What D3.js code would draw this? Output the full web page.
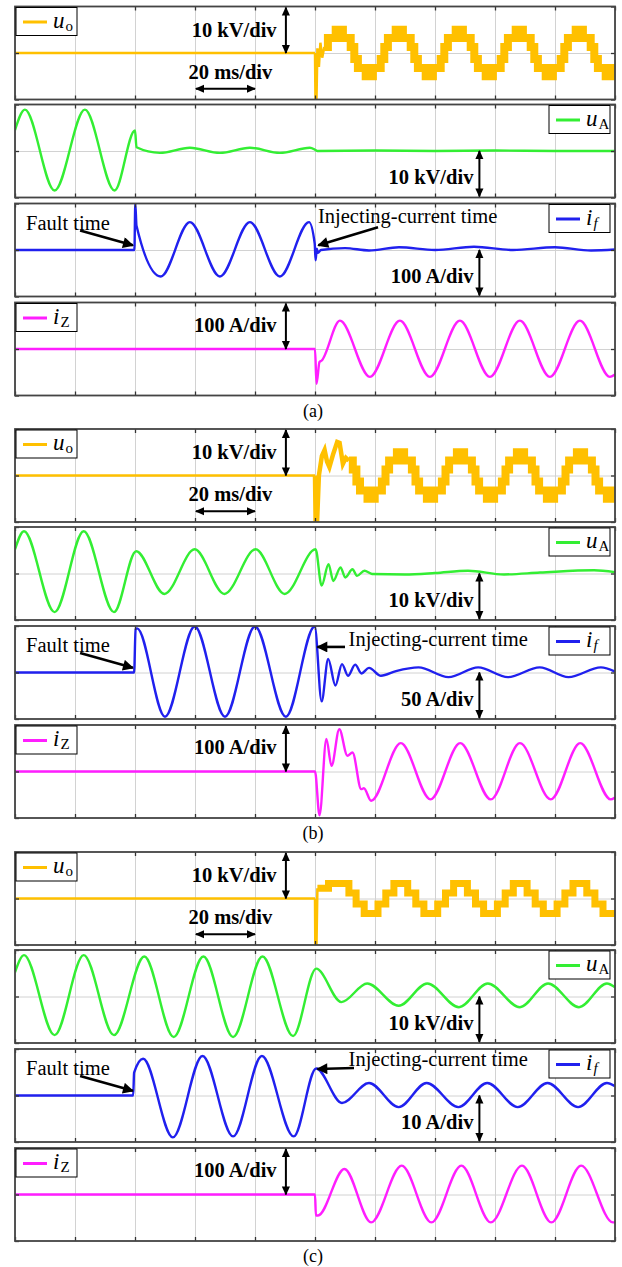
<!DOCTYPE html>
<html>
<head>
<meta charset="utf-8">
<script src="https://cdn.jsdelivr.net/npm/d3@7"></script>
<style>
body { margin: 0; background: #fff; }
</style>
</head>
<body>
<div class="visContainer"></div>
<script>
const w = 622;
const h = 1267;

// time axis (ms) and vertical divisions
const timeTicks = [0, 20, 40, 60, 80, 100, 120, 140, 160, 180, 200];
const divTicks = [-1, 0, 1];

const captions = ['(a)', '(b)', '(c)'];
const legendMain = ['u', 'u', 'i', 'i'];
const legendSub = ['o', 'A', 'f', 'Z'];
const scaleLabels = [
	['10 kV/div', '10 kV/div', '100 A/div', '100 A/div'],
	['10 kV/div', '10 kV/div', '50 A/div', '100 A/div'],
	['10 kV/div', '10 kV/div', '10 A/div', '100 A/div']
];
const timeLabel = '20 ms/div';
const faultLabel = 'Fault time';
const injectLabel = 'Injecting-current time';

// u_o before the injection is flat in all three cases
const uoPre = [[0, 0], [100, 0]];

// ---- (a) ----
const uoA_edge = [[100, 0], [100.15, -0.98], [100.5, -0.98], [100.8, 0.1], [101.3, -0.3], [101.8, 0.22], [102.4, -0.1], [103.1, 0.13]];
const uoA_step = [
	[103.1, 0.13], [104.3, 0.32], [106.9, 0.5], [109.3, 0.32], [111.9, 0.13], [113.1, -0.13], [114.3, -0.32], [116.9, -0.5], [119.3, -0.32], [121.9, -0.13],
	[123.1, 0.13], [124.3, 0.32], [126.9, 0.5], [129.3, 0.32], [131.9, 0.13], [133.1, -0.13], [134.3, -0.32], [136.9, -0.5], [139.3, -0.32], [141.9, -0.13],
	[143.1, 0.13], [144.3, 0.32], [146.9, 0.5], [149.3, 0.32], [151.9, 0.13], [153.1, -0.13], [154.3, -0.32], [156.9, -0.5], [159.3, -0.32], [161.9, -0.13],
	[163.1, 0.13], [164.3, 0.32], [166.9, 0.5], [169.3, 0.32], [171.9, 0.13], [173.1, -0.13], [174.3, -0.32], [176.9, -0.5], [179.3, -0.32], [181.9, -0.13],
	[183.1, 0.13], [184.3, 0.32], [186.9, 0.5], [189.3, 0.32], [191.9, 0.13], [193.1, -0.13], [194.3, -0.32], [196.9, -0.5], [199.3, -0.32], [200, -0.32]
];
const uA_a = [[0, 0.45], [3.3, 0.89], [13.2, -0.85], [23.3, 0.89], [33.2, -0.85], [40, 0.44], [40.5, 0.08], [48.3, -0.04], [58.3, 0.07], [68.3, -0.04], [78.3, 0.07], [88.3, -0.04], [98.3, 0.07], [100.2, 0.02], [100.8, 0], [120, 0.01], [140, 0], [160, 0.01], [180, 0], [200, 0]];
const if_a = [[0, 0], [39.8, 0], [40.1, 1.0], [40.5, 0.52], [48.6, -0.57], [58.3, 0.6], [68.3, -0.57], [78.3, 0.6], [88.3, -0.57], [98, 0.6], [99.9, 0.14], [100.2, -0.22], [100.6, 0.03], [101, -0.06], [102, 0], [110, 0.04], [118, -0.01], [128, 0.06], [140, 0], [153, 0.07], [166, 0], [180, 0.06], [192, -0.01], [200, 0.01]];
const iZ_a = [[0, 0], [100, 0], [100.5, -0.75], [101.5, -0.28], [102.2, -0.25], [108.3, 0.61], [118.3, -0.6], [128.3, 0.61], [138.3, -0.6], [148.3, 0.61], [158.3, -0.6], [168.3, 0.61], [178.3, -0.6], [188.3, 0.61], [198.3, -0.6], [200, -0.55]];

// ---- (b) ----
const uoB_edge = [[100, 0], [100.2, -0.98], [100.7, -0.98], [101.3, 0], [102.3, 0.42], [103.2, 0.55], [104, 0.3], [104.8, 0.18], [106, 0.45], [107.4, 0.72], [108.2, 0.7], [109.3, 0.25], [110.3, 0.38], [111.3, 0.32]];
const uoB_step = [
	[111.3, 0.32], [112.6, 0.13], [113.8, -0.13], [115, -0.32], [117.5, -0.5], [119.9, -0.32], [122.3, -0.13],
	[123.5, 0.13], [124.7, 0.32], [127.3, 0.5], [129.7, 0.32], [132.3, 0.13], [133.5, -0.13], [134.7, -0.32], [137.3, -0.5], [139.7, -0.32], [142.3, -0.13],
	[143.5, 0.13], [144.7, 0.32], [147.3, 0.5], [149.7, 0.32], [152.3, 0.13], [153.5, -0.13], [154.7, -0.32], [157.3, -0.5], [159.7, -0.32], [162.3, -0.13],
	[163.5, 0.13], [164.7, 0.32], [167.3, 0.5], [169.7, 0.32], [172.3, 0.13], [173.5, -0.13], [174.7, -0.32], [177.3, -0.5], [179.7, -0.32], [182.3, -0.13],
	[183.5, 0.13], [184.7, 0.32], [187.3, 0.5], [189.7, 0.32], [192.3, 0.13], [193.5, -0.13], [194.7, -0.32], [197.3, -0.5], [199.7, -0.32], [200, -0.32]
];
const uA_b = [[0, 0.52], [3, 0.91], [13.2, -0.83], [22.9, 0.91], [33, -0.83], [40.4, 0.48], [49.8, -0.44], [59.9, 0.52], [69.8, -0.44], [80.2, 0.52], [89.9, -0.44], [100.2, 0.52], [102.2, -0.26], [104.5, 0.2], [106.1, -0.16], [108.5, 0.13], [110.1, -0.085], [112.5, 0.09], [114, -0.05], [116.5, 0.06], [119, -0.01], [130, -0.02], [140, 0.01], [151, 0.06], [163, -0.02], [175, 0.02], [193, 0.07], [200, 0.03]];
const if_b = [[0, 0], [39.7, 0], [40.2, 0.93], [40.7, 0.95], [50, -0.95], [59.9, 0.99], [70, -0.95], [80, 0.99], [90.3, -0.95], [99.9, 0.99], [102.2, -0.62], [104.4, 0.29], [106.8, -0.28], [109, 0.18], [111, -0.07], [113.4, 0.17], [115.5, -0.02], [118, 0.1], [122, -0.07], [127, 0.03], [134.5, 0.11], [144.5, -0.1], [154.4, 0.11], [164.3, -0.1], [174.9, 0.11], [184.5, -0.1], [195.3, 0.11], [200, 0.02]];
const iZ_b = [[0, 0], [100, 0], [101.5, -0.94], [103.8, 0.7], [105.5, 0.12], [108.1, 0.91], [110.8, 0.34], [112.5, 0.41], [115.4, -0.38], [116.3, -0.36], [118.7, -0.63], [128.6, 0.61], [138.5, -0.6], [148.4, 0.61], [158.6, -0.6], [168.3, 0.61], [178.6, -0.6], [188.4, 0.61], [198.6, -0.6], [200, -0.56]];

// ---- (c) ----
const uoC_edge = [[100, 0], [100.1, -0.98], [100.5, -0.98], [100.8, 0.22]];
const uoC_step = [
	[100.8, 0.22], [104.5, 0.32], [111.3, 0.12], [113.7, -0.12], [116.4, -0.32], [121, -0.12],
	[123.6, 0.12], [126.3, 0.32], [130.9, 0.12], [133.6, -0.12], [136.3, -0.32], [140.9, -0.12],
	[143.5, 0.12], [146.2, 0.32], [150.8, 0.12], [153.5, -0.12], [156.2, -0.32], [160.8, -0.12],
	[163.4, 0.12], [166.1, 0.32], [170.7, 0.12], [173.4, -0.12], [176.1, -0.32], [180.7, -0.12],
	[183.3, 0.12], [186, 0.32], [190.6, 0.12], [193.3, -0.12], [196, -0.32], [200, -0.32]
];
const uA_c = [[0, 0.52], [3, 0.89], [13.2, -0.83], [22.9, 0.89], [33, -0.83], [43.1, 0.86], [52.9, -0.87], [62.8, 0.86], [72.7, -0.87], [82.5, 0.86], [92.7, -0.85], [100.4, 0.6], [108.8, -0.12], [117.4, 0.28], [127.9, -0.2], [137.4, 0.28], [148, -0.23], [157.6, 0.28], [168.3, -0.23], [177.7, 0.28], [188, -0.23], [197.3, 0.28], [200, 0.2]];
const if_c = [[0, 0], [39.4, 0], [39.7, 0.49], [42.7, 0.79], [52.6, -0.9], [62.5, 0.85], [72.7, -0.88], [82.3, 0.85], [92.9, -0.88], [100.4, 0.58], [109, -0.16], [118, 0.27], [127.9, -0.25], [137.2, 0.27], [147.8, -0.25], [157.4, 0.27], [167.6, -0.25], [177.5, 0.27], [187.7, -0.25], [197.3, 0.27], [200, 0.2]];
const iZ_c = [[0, 0], [100, 0], [100.3, -0.45], [101, -0.45], [109.8, 0.55], [118.7, -0.6], [128.9, 0.62], [138.8, -0.6], [148.8, 0.62], [158.6, -0.6], [169, 0.62], [178.8, -0.6], [188.7, 0.62], [199.3, -0.6], [200, -0.6]];

const uoEdges = [uoA_edge, uoB_edge, uoC_edge];
const uoSteps = [uoA_step, uoB_step, uoC_step];
const uAs = [uA_a, uA_b, uA_c];
const ifs = [if_a, if_b, if_c];
const iZs = [iZ_a, iZ_b, iZ_c];

// ---- layout / style ----
const colors = ['#ffc000', '#33ee33', '#2020ee', '#ff1eff'];
const groupTop = [6.5, 429, 852];
const panelOffset = [0, 98, 197, 296];
const ph = 93;
const edgeWidth = [2.5, 4.5, 2.5];
const stepWidth = [8, 8, 7];
// injecting-current annotation: text [t, div], arrow from [t, div] to [t, div]
const injectText = [[101, 0.74], [111.2, 0.72], [111.2, 0.78]];
const injectArrow = [[[121, 0.49], [101.1, 0.1]], [[110, 0.55], [100.8, 0.55]], [[113, 0.59], [100.8, 0.57]]];

const x = d3.scaleLinear().domain([0, 200]).range([15, 615]);

const svgContainer = d3
	.select('.visContainer')
	.append('svg')
	.attr('width', w)
	.attr('height', h)
	.style('font-family', '"Liberation Serif", "Times New Roman", serif');

const defs = svgContainer.append('defs');
defs.append('marker')
	.attr('id', 'head')
	.attr('viewBox', '0 0 10 10')
	.attr('refX', 9)
	.attr('refY', 5)
	.attr('markerWidth', 9)
	.attr('markerHeight', 9)
	.attr('markerUnits', 'userSpaceOnUse')
	.attr('orient', 'auto-start-reverse')
	.append('path')
	.attr('d', 'M0,0.5 L10,5 L0,9.5 z')
	.attr('fill', '#000');
defs.append('marker')
	.attr('id', 'bighead')
	.attr('viewBox', '0 0 10 10')
	.attr('refX', 9)
	.attr('refY', 5)
	.attr('markerWidth', 13)
	.attr('markerHeight', 11)
	.attr('markerUnits', 'userSpaceOnUse')
	.attr('orient', 'auto')
	.append('path')
	.attr('d', 'M0,0 L10,5 L0,10 z')
	.attr('fill', '#000');

function arrow(g, x1, y1, x2, y2, both, big) {
	g.append('line')
		.attr('x1', x1).attr('y1', y1)
		.attr('x2', x2).attr('y2', y2)
		.attr('stroke', '#000')
		.attr('stroke-width', big ? 2.6 : 2)
		.attr('marker-end', big ? 'url(#bighead)' : 'url(#head)')
		.attr('marker-start', both ? 'url(#head)' : null);
}

function legend(g, left, top, pi) {
	const bx = left ? 16 : 549;
	const lg = g.append('g');
	lg.append('rect')
		.attr('x', bx).attr('y', top + 1)
		.attr('width', 61).attr('height', 28)
		.attr('fill', '#fff')
		.attr('stroke', '#000')
		.attr('stroke-width', 1);
	lg.append('line')
		.attr('x1', bx + 7).attr('x2', bx + 31)
		.attr('y1', top + 15.5).attr('y2', top + 15.5)
		.attr('stroke', colors[pi])
		.attr('stroke-width', 3);
	const t = lg.append('text')
		.attr('x', bx + 37)
		.attr('y', top + 21)
		.attr('font-size', 23);
	t.append('tspan').attr('font-style', 'italic').text(legendMain[pi]);
	t.append('tspan')
		.attr('font-size', 15)
		.attr('dy', 3)
		.attr('dx', 1)
		.attr('font-style', legendSub[pi] === 'f' ? 'italic' : 'normal')
		.text(legendSub[pi]);
}

function boldLabel(g, xEnd, yc, txt) {
	g.append('text')
		.attr('x', xEnd)
		.attr('y', yc)
		.attr('text-anchor', 'end')
		.attr('dominant-baseline', 'central')
		.attr('font-size', 20.5)
		.attr('font-weight', 'bold')
		.text(txt);
}

groupTop.forEach((gt, gi) => {
	const seriesList = [
		[
			{ d: uoPre, c: d3.curveLinear, sw: 2.5 },
			{ d: uoEdges[gi], c: d3.curveLinear, sw: edgeWidth[gi] },
			{ d: uoSteps[gi], c: d3.curveStepAfter, sw: stepWidth[gi] }
		],
		[{ d: uAs[gi], c: d3.curveMonotoneX, sw: 2.4 }],
		[{ d: ifs[gi], c: d3.curveMonotoneX, sw: 2.4 }],
		[{ d: iZs[gi], c: d3.curveMonotoneX, sw: 2.4 }]
	];

	seriesList.forEach((series, pi) => {
		const top = gt + panelOffset[pi];
		const y = d3.scaleLinear().domain([-1, 1]).range([top + ph, top]);
		const g = svgContainer.append('g');

		// grid
		g.append('g')
			.attr('transform', `translate(0,${top + ph})`)
			.call(d3.axisBottom(x).tickValues(timeTicks).tickSize(-ph).tickFormat(''))
			.call((a) => a.select('.domain').remove())
			.call((a) => a.selectAll('line').attr('stroke', '#d2d2d2').attr('stroke-width', 1));
		g.append('g')
			.attr('transform', 'translate(15,0)')
			.call(d3.axisLeft(y).tickValues([0]).tickSize(-600).tickFormat(''))
			.call((a) => a.select('.domain').remove())
			.call((a) => a.selectAll('line').attr('stroke', '#d2d2d2').attr('stroke-width', 1));

		// waveform(s)
		const clipId = `clip-${gi}-${pi}`;
		defs.append('clipPath').attr('id', clipId)
			.append('rect').attr('x', 15).attr('y', top).attr('width', 600).attr('height', ph);
		const line = d3.line().x((d) => x(d[0])).y((d) => y(d[1]));
		series.forEach((s) => {
			g.append('path')
				.attr('clip-path', `url(#${clipId})`)
				.attr('d', line.curve(s.c)(s.d))
				.attr('fill', 'none')
				.attr('stroke', colors[pi])
				.attr('stroke-width', s.sw)
				.attr('stroke-linejoin', 'miter');
		});

		// border ticks
		const tickCol = '#333';
		g.append('g').attr('transform', `translate(0,${top + ph})`)
			.call(d3.axisBottom(x).tickValues(timeTicks).tickSize(-4).tickFormat(''))
			.call((a) => a.select('.domain').remove())
			.call((a) => a.selectAll('line').attr('stroke', tickCol).attr('stroke-width', 1.3));
		g.append('g').attr('transform', `translate(0,${top})`)
			.call(d3.axisTop(x).tickValues(timeTicks).tickSize(-4).tickFormat(''))
			.call((a) => a.select('.domain').remove())
			.call((a) => a.selectAll('line').attr('stroke', tickCol).attr('stroke-width', 1.3));
		g.append('g').attr('transform', 'translate(615,0)')
			.call(d3.axisRight(y).tickValues(divTicks).tickSize(-4).tickFormat(''))
			.call((a) => a.select('.domain').remove())
			.call((a) => a.selectAll('line').attr('stroke', tickCol).attr('stroke-width', 1.3));
		g.append('g').attr('transform', 'translate(15,0)')
			.call(d3.axisLeft(y).tickValues(divTicks).tickSize(-4).tickFormat(''))
			.call((a) => a.select('.domain').remove())
			.call((a) => a.selectAll('line').attr('stroke', tickCol).attr('stroke-width', 1.3));

		// frame
		g.append('rect')
			.attr('x', 15).attr('y', top)
			.attr('width', 600).attr('height', ph)
			.attr('fill', 'none')
			.attr('stroke', '#444')
			.attr('stroke-width', 1.8);

		// legend
		legend(g, pi === 0 || pi === 3, top, pi);

		// scale annotations
		if (pi === 0 || pi === 3) {
			arrow(g, x(90.3), y(1) + 1, x(90.3), y(0), true, false);
			boldLabel(g, x(87.2), y(pi === 0 ? 0.5 : 0.52), scaleLabels[gi][pi]);
		} else {
			arrow(g, x(154.8), y(0), x(154.8), y(-1) - 1, true, false);
			boldLabel(g, x(152.8), y(-0.56), scaleLabels[gi][pi]);
		}
		if (pi === 0) {
			g.append('text')
				.attr('x', x(71.8))
				.attr('y', y(-0.4))
				.attr('text-anchor', 'middle')
				.attr('dominant-baseline', 'central')
				.attr('font-size', 20.5)
				.attr('font-weight', 'bold')
				.text(timeLabel);
			arrow(g, x(60.3), y(-0.77), x(80), y(-0.77), true, false);
		}
		if (pi === 2) {
			g.append('text')
				.attr('x', x(3.7))
				.attr('y', y(0.59))
				.attr('dominant-baseline', 'central')
				.attr('font-size', 20.5)
				.text(faultLabel);
			arrow(g, x(21.7), y(0.42), x(39.3), y(0.1), false, true);
			g.append('text')
				.attr('x', x(injectText[gi][0]))
				.attr('y', y(injectText[gi][1]))
				.attr('dominant-baseline', 'central')
				.attr('font-size', 20.5)
				.text(injectLabel);
			const ia = injectArrow[gi];
			arrow(g, x(ia[0][0]), y(ia[0][1]), x(ia[1][0]), y(ia[1][1]), false, true);
		}
	});

	svgContainer.append('text')
		.attr('x', 313)
		.attr('y', gt + 404)
		.attr('text-anchor', 'middle')
		.attr('dominant-baseline', 'central')
		.attr('font-size', 18)
		.text(captions[gi]);
});
</script>
</body>
</html>
